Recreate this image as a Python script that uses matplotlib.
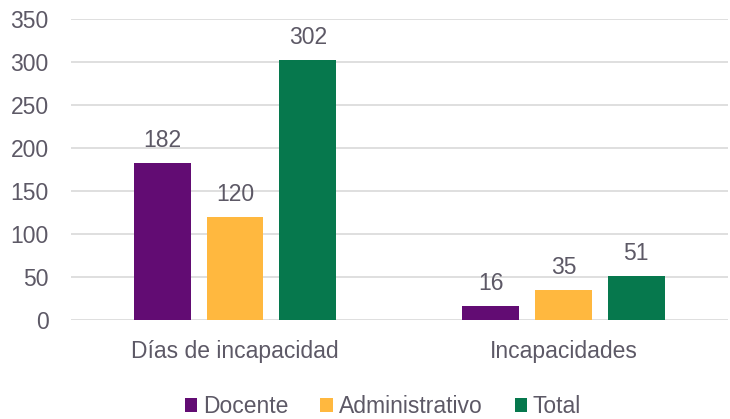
import numpy as np
import matplotlib
matplotlib.use('Agg')
from matplotlib import pyplot as plt

categories = ['Días de incapacidad', 'Incapacidades']
series_names = ['Docente', 'Administrativo', 'Total']
docente = [182, 16]
administrativo = [120, 35]
total = [302, 51]
y_ticks = [0, 50, 100, 150, 200, 250, 300, 350]

colors = ['#620c73', '#ffb83f', '#06784d']
text_color = '#5d5966'

plt.rcParams['font.family'] = ['Liberation Sans', 'DejaVu Sans']

fig = plt.figure(figsize=(7.3, 4.19), dpi=100)
ax = fig.add_axes([0.097, 0.236, 0.9, 0.719])

x = np.arange(len(categories))
width = 0.173
step = 0.2215
for i, (name, vals) in enumerate(zip(series_names, [docente, administrativo, total])):
    bars = ax.bar(x + (i - 1) * step, vals, width, color=colors[i], label=name, zorder=3)
    for b, v in zip(bars, vals):
        ax.annotate(str(v), (b.get_x() + b.get_width() / 2, v), xytext=(0, 8),
                    textcoords='offset points', ha='center', va='bottom',
                    fontsize=16.5, color=text_color)

ax.set_xlim(-0.5, 1.5)
ax.set_ylim(0, 350)
ax.set_yticks(y_ticks)
ax.set_xticks(x)
ax.set_xticklabels(categories)
ax.tick_params(axis='both', length=0, labelsize=16.5, colors=text_color)
ax.tick_params(axis='x', pad=14)
ax.tick_params(axis='y', pad=16)
ax.grid(axis='y', color='#d9d9d9', linewidth=1.2, zorder=0)
for s in ax.spines.values():
    s.set_visible(False)

ax.legend(loc='lower center', bbox_to_anchor=(0.475, -0.395), ncol=3, frameon=False,
          fontsize=16.5, labelcolor=text_color, handlelength=0.55, handleheight=0.55,
          handletextpad=0.25, columnspacing=1.4)

fig.savefig('out.png', dpi=100)
